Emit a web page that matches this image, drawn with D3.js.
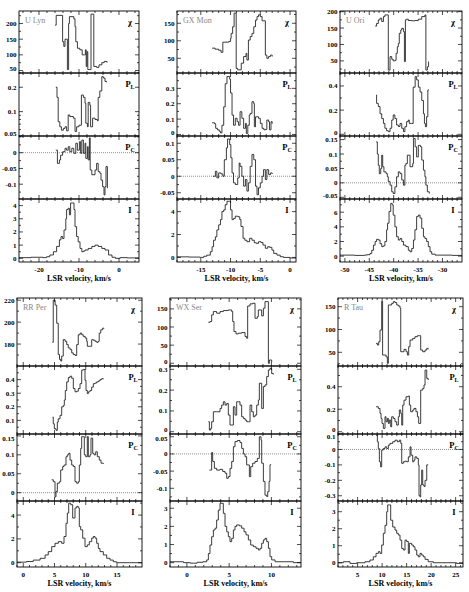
<!DOCTYPE html>
<html>
<head>
<meta charset="utf-8">
<script src="https://cdn.jsdelivr.net/npm/d3@7"></script>
<style>
  body { margin: 0; background: #fff; }
  text { font-family: "Liberation Serif", "DejaVu Serif", serif; }
</style>
</head>
<body>
<svg id="fig" width="469" height="592"></svg>
<script>
// ---- data: [LSR velocity km/s, value] ----
const starNames = ['U Lyn', 'GX Mon', 'U Ori', 'RR Per', 'WX Ser', 'R Tau'];

const uLynChi = [[-16.0,195],[-15.7,226],[-14.1,142],[-13.8,127],[-13.5,150],[-12.9,53],[-12.6,200],[-12.4,222],[-11.3,215],[-11.0,190],[-10.8,142],[-10.4,121],[-9.8,116],[-9.2,100],[-8.6,100],[-8.4,116],[-8.2,63],[-8.0,110],[-7.8,53],[-7.3,53],[-7.0,230],[-6.3,63],[-5.6,60],[-5.0,68],[-4.3,75],[-3.7,79],[-3.0,75]];
const uLynPL = [[-15.8,0.20],[-15.5,0.15],[-15.2,0.075],[-14.8,0.065],[-14.4,0.059],[-13.9,0.062],[-13.5,0.065],[-13.1,0.058],[-12.7,0.091],[-12.3,0.087],[-11.4,0.083],[-11.0,0.057],[-10.6,0.065],[-10.0,0.068],[-9.4,0.16],[-8.9,0.15],[-8.5,0.127],[-8.3,0.072],[-7.9,0.065],[-7.7,0.13],[-7.3,0.12],[-7.1,0.065],[-6.6,0.083],[-6.0,0.08],[-5.4,0.077],[-5.2,0.15],[-4.8,0.18],[-4.3,0.27],[-3.9,0.26],[-3.5,0.236],[-3.1,0.23]];
const uLynPC = [[-15.8,0.008],[-15.4,-0.034],[-14.9,-0.023],[-14.6,-0.008],[-14.1,0.003],[-13.5,0.014],[-13.1,0.008],[-12.7,0.019],[-12.3,0.003],[-11.8,0.014],[-11.3,-0.002],[-10.8,0.03],[-10.4,0.008],[-9.9,0.035],[-9.6,-0.002],[-9.3,0.04],[-8.9,-0.002],[-8.5,0.03],[-8.3,-0.018],[-7.9,0.019],[-7.7,-0.023],[-7.4,0.047],[-7.2,-0.055],[-6.8,-0.07],[-6.0,-0.055],[-5.6,-0.034],[-5.2,-0.06],[-4.8,-0.065],[-4.5,-0.087],[-4.1,-0.108],[-3.75,-0.134],[-3.5,-0.108],[-3.25,-0.044],[-2.9,-0.113]];
const uLynI = [[-25,0.05],[-22,0.08],[-19,0.05],[-18.1,0.12],[-17.3,0.25],[-16.4,0.5],[-15.6,0.9],[-14.9,1.4],[-14.5,1.65],[-14.1,1.5],[-13.75,2.15],[-13.3,3.0],[-13.1,3.7],[-12.7,3.8],[-12.4,3.3],[-12.1,4.2],[-11.6,4.2],[-11.25,3.7],[-11.0,2.4],[-10.6,1.65],[-10.2,1.25],[-9.75,0.75],[-9.3,0.5],[-8.9,0.55],[-8.5,0.63],[-7.7,0.75],[-6.8,0.9],[-6.0,1.0],[-5.2,0.9],[-4.3,0.75],[-3.5,0.63],[-2.6,0.25],[-1.75,0.08],[-0.9,0.0],[0.3,0.05],[2,0.03],[5,0.03]];

const gxMonChi = [[-13.1,79],[-12.6,76],[-12.0,73],[-11.6,67],[-11.3,96],[-10.3,98],[-10.0,107],[-9.9,121],[-9.65,140],[-9.4,179],[-9.05,21],[-8.8,17],[-8.4,17],[-8.2,36],[-7.8,55],[-7.4,64],[-7.25,45],[-7.0,102],[-6.7,112],[-6.4,121],[-6.1,140],[-5.8,159],[-5.55,169],[-5.3,174],[-5.0,169],[-4.7,157],[-4.15,59],[-3.9,50],[-3.6,55],[-3.3,59],[-3.0,55]];
const gxMonPL = [[-13.1,0.076],[-12.7,0.07],[-12.5,0.04],[-12.2,0.03],[-11.9,0.02],[-11.7,0.01],[-11.45,0.06],[-11.15,0.18],[-10.9,0.33],[-10.6,0.377],[-10.15,0.36],[-10.0,0.27],[-9.75,0.126],[-9.5,0.06],[-9.2,0.105],[-8.9,0.083],[-8.65,0.06],[-8.4,0.148],[-8.1,0.105],[-7.8,0.04],[-7.5,0.072],[-7.35,0.007],[-7.1,0.06],[-6.85,0.126],[-6.7,0.137],[-6.4,0.213],[-6.1,0.2],[-6.0,0.05],[-5.8,0.115],[-5.3,0.105],[-5.0,0.072],[-4.7,0.04],[-4.4,0.03],[-4.15,0.033],[-3.9,0.094],[-3.6,0.083],[-3.45,0.03],[-3.2,0.083],[-3.0,0.07]];
const gxMonPC = [[-12.95,0.0],[-12.55,0.015],[-12.3,-0.005],[-12.0,0.01],[-11.6,0.007],[-11.3,0.0],[-11.05,0.05],[-10.7,0.086],[-10.5,0.113],[-10.15,0.096],[-9.95,0.056],[-9.75,0.01],[-9.5,-0.02],[-9.2,-0.025],[-8.8,-0.005],[-8.55,0.04],[-8.4,0.03],[-8.1,0.0],[-7.8,-0.03],[-7.5,-0.01],[-7.25,-0.045],[-7.0,-0.02],[-6.7,0.03],[-6.4,0.066],[-6.1,0.05],[-5.8,-0.03],[-5.55,-0.056],[-5.3,-0.035],[-5.0,-0.02],[-4.7,0.0],[-4.45,0.02],[-4.15,-0.01],[-3.9,0.02],[-3.6,0.005],[-3.3,0.01],[-3.0,0.007]];
const gxMonI = [[-19,0.05],[-17,0.03],[-15.1,0.0],[-14.5,0.1],[-14.0,0.2],[-13.4,0.5],[-13.1,0.94],[-12.85,1.5],[-12.55,1.8],[-12.3,2.4],[-12.0,2.84],[-11.7,3.3],[-11.45,4.0],[-11.15,4.15],[-10.9,4.6],[-10.6,4.9],[-10.2,4.9],[-10.0,4.15],[-9.75,3.3],[-9.5,3.4],[-9.2,3.6],[-8.8,3.55],[-8.45,3.3],[-8.25,2.7],[-7.9,1.67],[-7.6,1.5],[-7.25,1.37],[-6.8,1.67],[-6.4,1.5],[-6.0,1.28],[-5.65,1.23],[-5.3,1.37],[-4.9,1.3],[-4.55,1.08],[-4.15,0.8],[-3.75,0.94],[-3.45,0.88],[-3.05,0.64],[-2.75,0.35],[-2.2,0.2],[-1.65,0.06],[-1.1,0.0],[0,-0.05],[1,-0.05]];

const uOriChi = [[-43.8,156],[-43.5,164],[-43.15,175],[-42.8,180],[-42.45,170],[-42.1,185],[-41.8,190],[-41.1,22],[-40.75,63],[-40.4,55],[-40.1,50],[-39.7,52],[-39.5,73],[-39.25,93],[-39.05,103],[-38.85,134],[-38.55,144],[-38.35,149],[-38.0,139],[-37.8,48],[-37.6,175],[-37.35,177],[-37.0,173],[-36.3,172],[-35.6,173],[-34.95,177],[-34.25,185],[-33.6,190],[-33.4,22],[-33.1,32],[-32.85,48]];
const uOriPL = [[-43.6,0.325],[-43.5,0.256],[-43.15,0.23],[-42.8,0.17],[-42.45,0.13],[-42.1,0.09],[-41.8,0.05],[-41.45,0.03],[-41.1,0.022],[-40.75,0.05],[-40.4,0.118],[-40.1,0.16],[-39.75,0.13],[-39.4,0.077],[-39.05,0.065],[-38.7,0.09],[-38.35,0.05],[-38.0,0.022],[-37.7,0.063],[-37.35,0.105],[-37.0,0.118],[-36.8,0.09],[-36.3,0.09],[-36.0,0.39],[-35.6,0.477],[-35.3,0.45],[-34.95,0.39],[-34.6,0.35],[-34.25,0.28],[-33.9,0.17],[-33.7,0.09],[-33.5,0.063],[-33.25,0.146],[-33.0,0.366],[-32.85,0.37]];
const uOriPC = [[-43.6,0.142],[-43.35,0.10],[-43.15,0.061],[-42.95,0.032],[-42.65,0.05],[-42.45,0.096],[-42.25,0.056],[-42.0,0.038],[-41.55,0.032],[-41.3,0.021],[-41.1,0.005],[-40.75,-0.008],[-40.4,-0.031],[-40.1,-0.037],[-39.75,-0.014],[-39.4,0.021],[-39.05,0.038],[-38.7,0.032],[-38.35,0.01],[-38.0,-0.008],[-37.7,0.061],[-37.5,0.067],[-37.2,0.096],[-36.8,0.096],[-36.65,0.056],[-36.1,0.067],[-35.95,0.154],[-35.6,0.125],[-35.3,0.09],[-34.95,0.13],[-34.5,0.125],[-34.25,0.079],[-33.9,0.044],[-33.6,0.021],[-33.4,-0.008],[-33.1,-0.031],[-32.7,-0.037]];
const uOriI = [[-51,0.14],[-48,0.1],[-46,0.14],[-45.5,0.2],[-44.85,0.37],[-44.5,0.8],[-44.15,1.5],[-43.8,2.0],[-43.5,2.3],[-43.15,2.2],[-42.8,1.7],[-42.45,1.3],[-42.1,1.4],[-41.8,2.0],[-41.45,3.6],[-41.25,4.5],[-40.95,6.1],[-40.6,7.2],[-40.3,7.0],[-40.1,5.6],[-39.75,4.0],[-39.4,2.65],[-39.05,2.2],[-38.7,2.4],[-38.35,2.0],[-38.0,1.5],[-37.5,1.3],[-37.0,0.8],[-36.65,0.6],[-36.3,1.05],[-35.95,2.2],[-35.65,3.6],[-35.3,5.4],[-34.95,5.6],[-34.6,5.2],[-34.25,3.8],[-33.9,2.65],[-33.6,2.4],[-33.25,2.0],[-32.9,1.3],[-32.55,0.6],[-32.2,0.27],[-31.5,0.14],[-30.5,0.14],[-28,0.1],[-26,0.1]];

const rrPerChi = [[4.65,181.6],[4.8,220],[5.1,215.5],[5.35,199],[5.6,170.5],[5.8,166],[6.0,164.5],[6.15,169],[6.4,184],[6.7,182.5],[6.95,179.5],[7.2,176.5],[7.5,175],[7.75,172],[8.0,170.5],[8.3,169.6],[8.55,179.5],[8.8,188.5],[9.1,190],[9.35,188.5],[9.6,187],[9.9,185.5],[10.15,182.5],[10.25,178],[10.7,178],[10.95,184],[11.2,183.5],[11.5,182.5],[11.75,181.6],[12.0,182.5],[12.15,190],[12.4,193],[12.7,194.5],[12.9,194]];
const rrPerPL = [[4.7,0.125],[4.8,0.075],[4.97,0.039],[5.24,0.027],[5.45,0.088],[5.6,0.112],[5.88,0.137],[6.15,0.2],[6.41,0.21],[6.57,0.25],[6.73,0.32],[6.95,0.383],[7.21,0.415],[7.48,0.425],[7.75,0.41],[8.01,0.334],[8.28,0.31],[8.55,0.315],[8.81,0.334],[9.08,0.37],[9.35,0.47],[9.61,0.474],[9.88,0.395],[10.04,0.32],[10.25,0.297],[10.41,0.31],[10.68,0.32],[10.95,0.345],[11.21,0.37],[11.48,0.375],[11.75,0.383],[12.01,0.39],[12.28,0.4],[12.55,0.407],[12.81,0.403]];
const rrPerPC = [[4.55,0.034],[4.81,0.029],[5.08,-0.011],[5.24,0.003],[5.45,0.025],[5.77,0.029],[5.99,0.06],[6.31,0.069],[6.52,0.073],[6.84,0.095],[7.05,0.1],[7.27,0.104],[7.48,0.086],[7.75,0.073],[8.01,0.069],[8.28,0.029],[8.55,0.025],[8.81,0.029],[8.97,0.073],[9.19,0.117],[9.35,0.148],[9.61,0.148],[9.77,0.1],[9.99,0.095],[10.25,0.148],[10.41,0.095],[10.68,0.1],[10.84,0.144],[11.11,0.104],[11.32,0.1],[11.59,0.108],[11.85,0.095],[12.17,0.086],[12.44,0.078],[12.81,0.076]];
const rrPerI = [[-1,0.05],[0.5,0.1],[1.6,0.22],[2.7,0.37],[3.5,0.65],[4.0,0.93],[4.55,1.35],[5.08,1.63],[5.61,1.77],[6.15,1.63],[6.52,2.2],[6.84,3.3],[7.05,4.17],[7.27,5.0],[7.59,4.87],[7.91,3.75],[8.12,3.75],[8.28,4.6],[8.55,4.73],[8.81,4.6],[8.97,3.04],[9.19,2.76],[9.51,2.06],[9.88,1.35],[10.25,1.5],[10.57,1.77],[10.95,2.06],[11.21,2.2],[11.48,2.06],[11.75,1.63],[12.01,1.2],[12.28,0.93],[12.81,0.65],[13.35,0.37],[13.88,0.22],[14.41,0.08],[14.95,0.0],[17,0.0],[19,0.0]];

const wxSerChi = [[2.54,113],[2.73,115],[2.93,133.5],[3.13,142.6],[3.52,138],[3.92,142.6],[4.31,145.4],[4.9,147],[5.3,142.6],[5.42,115],[5.57,87.5],[5.81,81],[6.09,83],[6.48,84.7],[6.88,73.7],[7.07,69],[7.19,158],[7.47,163.8],[7.78,165.6],[8.06,124],[8.33,128.9],[8.45,147],[8.65,147],[8.85,130.7],[9.05,151.8],[9.24,170],[9.64,0],[9.76,9],[10.03,3]];
const wxSerPL = [[2.54,0.048],[2.66,0.008],[2.81,0.016],[2.93,0.048],[3.13,0.096],[3.52,0.096],[3.92,0.112],[4.11,0.128],[4.31,0.144],[4.51,0.128],[4.71,0.136],[4.9,0.08],[5.1,0.032],[5.3,0.032],[5.5,0.12],[5.69,0.08],[5.89,0.144],[6.09,0.144],[6.28,0.128],[6.48,0.072],[6.68,0.064],[6.88,0.056],[7.07,0.048],[7.27,0.048],[7.47,0.128],[7.67,0.096],[7.86,0.072],[8.06,0.08],[8.26,0.128],[8.45,0.152],[8.57,0.233],[8.77,0.233],[8.85,0.112],[9.05,0.217],[9.24,0.225],[9.44,0.265],[9.64,0.297],[9.83,0.305],[10.03,0.28],[10.23,0.275]];
const wxSerPC = [[2.66,-0.047],[2.93,0.004],[3.05,-0.022],[3.25,-0.042],[3.52,-0.047],[3.92,-0.045],[4.23,-0.051],[4.51,-0.056],[4.71,-0.071],[4.9,-0.066],[5.1,-0.042],[5.3,-0.022],[5.5,0.021],[5.69,0.036],[5.97,0.039],[6.28,0.033],[6.48,0.016],[6.68,0.0],[6.88,-0.008],[7.07,-0.032],[7.39,-0.066],[7.55,-0.037],[7.78,-0.027],[8.06,-0.022],[8.33,-0.013],[8.57,0.05],[8.77,0.04],[8.85,-0.027],[9.05,-0.08],[9.24,-0.12],[9.44,-0.124],[9.56,-0.11],[9.72,-0.08],[9.83,-0.032],[9.91,-0.03]];
const wxSerI = [[-2,0.05],[-0.4,0.0],[0.4,-0.03],[1.2,0.02],[1.9,0.05],[2.34,0.15],[2.54,0.5],[2.73,0.97],[2.93,1.43],[3.13,1.8],[3.33,1.9],[3.52,2.35],[3.72,2.9],[3.92,3.27],[4.11,3.27],[4.31,2.72],[4.51,2.0],[4.71,1.7],[4.9,1.43],[5.1,1.16],[5.3,1.34],[5.5,1.8],[5.69,2.0],[5.89,2.08],[6.2,2.03],[6.48,1.9],[6.76,1.7],[6.99,1.53],[7.27,1.25],[7.55,0.97],[7.86,0.88],[8.18,0.79],[8.45,0.7],[8.65,0.79],[8.85,1.07],[9.05,1.25],[9.24,1.34],[9.44,1.16],[9.64,0.79],[9.83,0.33],[10.03,0.15],[10.43,0.05],[11.4,0.05],[12.6,0.0],[13.5,0.0]];

const rTauChi = [[8.76,69.6],[9.03,66],[9.3,73],[9.57,98.8],[9.91,161],[10.1,44],[10.59,44],[10.8,40],[11.07,25.7],[11.27,153.7],[11.6,153.7],[11.95,157.3],[12.29,161],[12.63,159],[12.97,153.7],[13.31,151.5],[13.65,146.5],[13.8,51.3],[14.2,51.3],[14.47,56.4],[14.88,51.3],[15.15,44],[15.42,62.3],[15.7,76.9],[16.24,80.5],[16.7,84.2],[17.2,86.4],[17.6,86.4],[17.87,55],[18.28,51.3],[18.76,55],[19.1,58.6],[19.4,56.4]];
const rTauPL = [[8.76,0.222],[9.23,0.207],[9.57,0.163],[9.78,0.118],[9.98,0.074],[10.25,0.03],[10.59,0.133],[10.8,0.089],[11.07,0.118],[11.27,0.074],[11.47,0.104],[11.75,0.044],[11.95,0.133],[12.29,0.118],[12.63,0.089],[12.97,0.059],[13.31,0.133],[13.52,0.193],[13.8,0.163],[14.0,0.059],[14.2,0.237],[14.47,0.281],[14.88,0.311],[15.35,0.317],[15.56,0.237],[15.83,0.178],[16.24,0.193],[16.5,0.207],[16.9,0.178],[17.2,0.133],[17.46,0.074],[17.73,0.074],[17.87,0.37],[18.28,0.385],[18.55,0.415],[18.76,0.548],[18.96,0.548],[19.1,0.474],[19.4,0.459]];
const rTauPC = [[8.76,0.093],[9.03,0.05],[9.23,0.006],[9.44,-0.08],[9.7,-0.113],[9.91,-0.004],[10.25,0.006],[10.59,0.017],[10.93,0.006],[11.27,0.028],[11.6,0.039],[12.16,0.05],[12.63,0.06],[13.1,0.05],[13.52,0.06],[13.8,0.039],[14.0,-0.09],[14.33,-0.08],[14.67,-0.076],[15.0,-0.08],[15.35,-0.048],[15.7,0.017],[15.9,-0.037],[16.24,-0.08],[16.5,-0.069],[16.7,-0.048],[17.06,-0.058],[17.39,-0.1],[17.53,-0.3],[17.73,-0.307],[17.87,-0.23],[18.07,-0.134],[18.28,-0.23],[18.55,-0.24],[18.76,-0.2],[19.1,-0.1],[19.4,-0.1]];
const rTauI = [[1,0.0],[2.1,0.06],[3.45,-0.04],[4.8,0.0],[6.5,0.06],[7.5,0.16],[8.2,0.35],[8.76,0.55],[9.23,0.65],[9.57,0.55],[9.91,1.04],[10.25,1.73],[10.59,2.2],[10.93,3.0],[11.14,3.4],[11.47,3.4],[11.75,2.5],[12.16,2.1],[12.63,1.92],[12.97,1.73],[13.31,1.63],[13.65,1.33],[14.0,0.84],[14.33,0.75],[14.67,1.33],[15.0,1.25],[15.35,0.55],[15.56,1.14],[16.04,1.04],[16.37,0.94],[16.7,0.75],[17.06,0.45],[17.39,0.35],[17.73,0.55],[18.07,0.45],[18.4,0.35],[18.76,0.2],[19.4,0.06],[20.45,0.0],[23.2,0.0],[25.2,-0.04],[26.5,0.0]];

// tick labels
const xTicks = [[-20,-10,0], [-15,-10,-5,0], [-50,-45,-40,-35,-30], [0,5,10,15], [0,5,10], [5,10,15,20,25]];
const chiTicks = [[50,100,150,200], [50,100,150], [50,100,150,200], [180,200,220], [0,50,100,150], [50,100,150]];
const plTicks = [[0.05,0.1,0.2], [0,0.1,0.2,0.3], [0,0.2,0.4], [0.1,0.2,0.3,0.4], [0,0.1,0.2,0.3], [0,0.2,0.4]];
const pcTicks = [[-0.1,-0.05,0], [-0.05,0,0.05,0.1], [-0.05,0,0.05,0.1,0.15], [0,0.05,0.1,0.15], [-0.1,-0.05,0,0.05], [-0.3,-0.2,-0.1,0,0.1]];
const iTicks = [[0,1,2,3,4], [0,2,4], [0,2,4,6], [0,2,4], [0,1,2,3], [0,1,2,3]];

// ---- layout ----
const svg = d3.select('#fig');
const rows = [{top: 11, cuts: [73, 136, 199], bottom: 262},
              {top: 298, cuts: [366, 434, 501], bottom: 567}];
const cols = [[19,139], [177,296], [340,462], [17,142], [170,301], [338,463]];

const panels = [
  {xd: [-25, 5],   minor: 2, subs: [[uLynChi,[42,240]], [uLynPL,[0.05,0.3],true], [uLynPC,[-0.147,0.053]], [uLynI,[-0.28,4.5]]]},
  {xd: [-19, 1],   minor: 1, subs: [[gxMonChi,[8,185]], [gxMonPL,[-0.01,0.40]], [gxMonPC,[-0.069,0.122]], [gxMonI,[-0.4,5.1]]]},
  {xd: [-51, -26], minor: 1, subs: [[uOriChi,[13,202]], [uOriPL,[-0.014,0.507]], [uOriPC,[-0.056,0.1625]], [uOriI,[-0.8,7.8]]]},
  {xd: [-1, 19],   minor: 1, subs: [[rrPerChi,[160,222]], [rrPerPL,[0,0.5]], [rrPerPC,[-0.022,0.155]], [rrPerI,[-0.36,5.18]]]},
  {xd: [-2, 13.5], minor: 1, subs: [[wxSerChi,[-7.5,180]], [wxSerPL,[-0.011,0.316]], [wxSerPC,[-0.137,0.058]], [wxSerI,[-0.24,3.4]]]},
  {xd: [1, 26.5],  minor: 1, subs: [[rTauChi,[20,169]], [rTauPL,[-0.02,0.584]], [rTauPC,[-0.334,0.1]], [rTauI,[-0.25,3.63]]]}
];

const fmt = v => String(+v.toFixed(3));

function drawPanel(p, k) {
  const row = rows[Math.floor(k / 3)];
  const [xl, xr] = cols[k];
  const x = d3.scaleLinear().domain(p.xd).range([xl, xr]);
  const edges = [row.top, ...row.cuts, row.bottom];
  const xMinor = d3.range(Math.ceil(p.xd[0] / p.minor) * p.minor, p.xd[1], p.minor);
  const yTickSets = [chiTicks[k], plTicks[k], pcTicks[k], iTicks[k]];
  const g = svg.append('g');

  p.subs.forEach(([data, yd, isLog], i) => {
    const top = edges[i], bot = edges[i + 1];
    const y = (isLog ? d3.scaleLog() : d3.scaleLinear()).domain(yd).range([bot, top]);
    const ticks = yTickSets[i];
    const cid = 'clip' + k + '_' + i;
    g.append('clipPath').attr('id', cid)
      .append('rect').attr('x', xl).attr('y', top).attr('width', xr - xl).attr('height', bot - top);

    if (i === 2) { // Pc zero line
      g.append('line').attr('x1', xl).attr('x2', xr).attr('y1', y(0)).attr('y2', y(0))
        .attr('stroke', '#444').attr('stroke-width', 0.6).attr('stroke-dasharray', '1,1');
    }

    g.append('path').datum(data)
      .attr('clip-path', `url(#${cid})`)
      .attr('fill', 'none').attr('stroke', '#1a1a1a').attr('stroke-width', 0.85)
      .attr('d', d3.line().x(d => x(d[0])).y(d => y(d[1])).curve(d3.curveStepAfter));

    g.append('rect').attr('x', xl).attr('y', top).attr('width', xr - xl).attr('height', bot - top)
      .attr('fill', 'none').attr('stroke', '#000').attr('stroke-width', 0.9);

    // x ticks, inward on top and bottom
    const xt = g.append('g').attr('stroke', '#000').attr('stroke-width', 0.7);
    xMinor.forEach(v => {
      const len = xTicks[k].includes(v) ? 4 : 2;
      xt.append('line').attr('x1', x(v)).attr('x2', x(v)).attr('y1', bot).attr('y2', bot - len);
      xt.append('line').attr('x1', x(v)).attr('x2', x(v)).attr('y1', top).attr('y2', top + len);
    });

    // y ticks, inward on left and right
    let yMinor;
    if (isLog) yMinor = [0.06, 0.07, 0.08, 0.09, 0.3];
    else {
      const st = (ticks[1] - ticks[0]) / 2;
      yMinor = d3.range(ticks[0] - 4 * st, ticks[ticks.length - 1] + 4 * st, st)
        .filter(v => v > yd[0] && v < yd[1] && !ticks.some(t => Math.abs(t - v) < 1e-9));
    }
    const yt = g.append('g').attr('stroke', '#000').attr('stroke-width', 0.7);
    ticks.forEach(v => {
      yt.append('line').attr('x1', xl).attr('x2', xl + 4).attr('y1', y(v)).attr('y2', y(v));
      yt.append('line').attr('x1', xr).attr('x2', xr - 4).attr('y1', y(v)).attr('y2', y(v));
    });
    yMinor.forEach(v => {
      yt.append('line').attr('x1', xl).attr('x2', xl + 2).attr('y1', y(v)).attr('y2', y(v));
      yt.append('line').attr('x1', xr).attr('x2', xr - 2).attr('y1', y(v)).attr('y2', y(v));
    });

    // labels sitting on a shared boundary are nudged apart a little
    const labelY = d => {
      let yy = y(d) + 2.5;
      if (i < 3 && Math.abs(y(d) - bot) < 3) yy -= 2.2;
      if (i > 0 && Math.abs(y(d) - top) < 3) yy += 2.2;
      return yy;
    };
    g.append('g').selectAll('text').data(ticks).join('text')
      .attr('x', xl - 2.5).attr('y', labelY)
      .attr('text-anchor', 'end').attr('font-size', 7).attr('font-weight', 'bold')
      .text(fmt);

    // sub-panel label
    const lab = g.append('text').attr('x', xr - 9).attr('y', top + 14)
      .attr('text-anchor', 'middle').attr('font-size', 8.5).attr('font-weight', 'bold');
    if (i === 0) lab.text('χ');
    else if (i === 3) lab.text('I');
    else {
      lab.append('tspan').text('P');
      lab.append('tspan').attr('font-size', 6).attr('dy', 1.5).text(i === 1 ? 'L' : 'C');
    }

    if (i === 0) {
      g.append('text').attr('x', xl + 6).attr('y', top + 12)
        .attr('font-size', 8).attr('fill', '#888').text(starNames[k]);
    }

    if (i === 3) {
      g.append('g').selectAll('text').data(xTicks[k]).join('text')
        .attr('x', d => x(d)).attr('y', bot + 10)
        .attr('text-anchor', 'middle').attr('font-size', 7).attr('font-weight', 'bold')
        .text(fmt);
      g.append('text').attr('x', (xl + xr) / 2).attr('y', bot + 19)
        .attr('text-anchor', 'middle').attr('font-size', 8).attr('font-weight', 'bold')
        .text('LSR velocity, km/s');
    }
  });
}

panels.forEach(drawPanel);
</script>
</body>
</html>
